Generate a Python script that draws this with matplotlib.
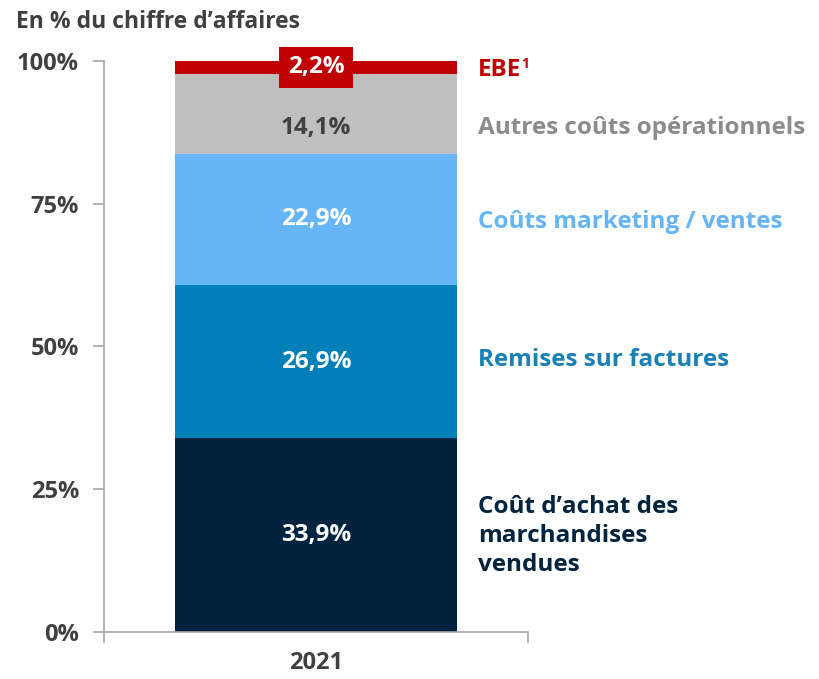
import matplotlib.pyplot as plt
import numpy as np

plt.rcParams['font.family'] = ['Open Sans', 'DejaVu Sans']

# data (share of revenue, 2021)
year = "2021"
labels = ["Coût d\u2019achat des\nmarchandises\nvendues", "Remises sur factures",
          "Coûts marketing / ventes", "Autres coûts opérationnels", "EBE"]
values = [33.9, 26.9, 22.9, 14.1, 2.2]
value_texts = ["33,9%", "26,9%", "22,9%", "14,1%", "2,2%"]
colors = ["#002440", "#0080B8", "#66B5F6", "#BFBFBF", "#C00000"]
label_colors = ["#002440", "#1A80B6", "#66B5F6", "#8C8C8C", "#C00000"]
value_colors = ["white", "white", "white", "#404040", "white"]

fs = 17.5

fig = plt.figure(figsize=(8.2, 6.79), dpi=100)
ax = fig.add_axes([0.1268, 0.0692, 0.517, 0.841])

bottoms = np.concatenate([[0], np.cumsum(values)[:-1]])
for v, b, c in zip(values, bottoms, colors):
    ax.bar(0, v, bottom=b, width=0.665, color=c, edgecolor="none")

ax.set_xlim(-0.5, 0.5)
ax.set_ylim(0, 100)

# value labels inside segments
for i, (v, b) in enumerate(zip(values, bottoms)):
    y = b + v / 2
    if i == 3:
        y = 88.3  # pushed down a bit under the red box
    if i == 4:
        ax.text(0, 98.9, value_texts[i], ha="center", va="center", color="white",
                fontsize=fs, fontweight="bold",
                bbox=dict(boxstyle="square,pad=0.35", fc=colors[i], ec="none"))
    else:
        ax.text(0, y, value_texts[i], ha="center", va="center", color=value_colors[i],
                fontsize=fs, fontweight="bold")

# category labels on the right
label_y = [16.8, 47.6, 71.8, 88.3, 98.4]
for lab, y, c in zip(labels, label_y, label_colors):
    t = ax.text(0.882, y, lab, transform=ax.get_yaxis_transform(),
                ha="left", va="center", color=c, fontsize=fs, fontweight="bold",
                linespacing=1.3, clip_on=False)
    if lab == "EBE":
        ax.annotate("1", xy=(1, 1), xycoords=t, xytext=(0, 1), textcoords="offset points",
                    ha="left", va="top", color=c, fontsize=10, fontweight="bold")

# axes styling
for s in ["top", "right"]:
    ax.spines[s].set_visible(False)
for s in ["left", "bottom"]:
    ax.spines[s].set_color("#A6A6A6")
    ax.spines[s].set_linewidth(1.2)

ax.set_yticks([0, 25, 50, 75, 100])
ax.set_yticklabels(["0%", "25%", "50%", "75%", "100%"])
ax.tick_params(axis="y", length=8, width=1.2, color="#A6A6A6", pad=10,
               labelsize=17, labelcolor="#404040")
for lbl in ax.get_yticklabels():
    lbl.set_fontweight("bold")

ax.set_xticks([0])
ax.set_xticklabels([year])
ax.tick_params(axis="x", which="major", length=0, pad=14, labelsize=17, labelcolor="#404040")
for lbl in ax.get_xticklabels():
    lbl.set_fontweight("bold")
ax.set_xticks([-0.5, 0.5], minor=True)
ax.tick_params(axis="x", which="minor", length=8, width=1.2, color="#A6A6A6")

fig.text(0.02, 0.967, "En % du chiffre d\u2019affaires", ha="left", va="center",
         fontsize=16.5, fontweight="bold", color="#404040")

fig.savefig("out.png", dpi=100)
